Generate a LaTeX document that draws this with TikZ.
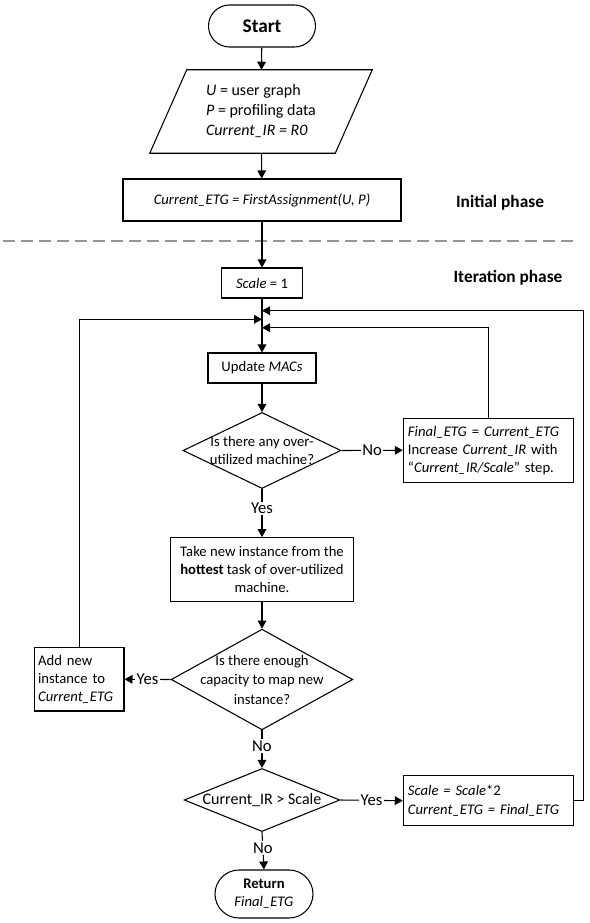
\documentclass[tikz,border=0pt]{standalone}
\usepackage{fontspec}
\setmainfont{Carlito}
\usetikzlibrary{shapes.geometric,shapes.misc,arrows.meta,calc}
\newcommand{\fsz}[2]{\fontsize{#1}{#2}\selectfont}
\definecolor{dashgray}{RGB}{150,150,150}
\begin{document}
\begin{tikzpicture}[x=0.75pt,y=-0.75pt,
 every node/.style={font=\fsz{11}{13.4}},
 flow/.style={line width=0.8pt},
 arr/.style={flow,-{Triangle[length=6pt,width=6.5pt]}},
 box/.style={draw,line width=0.8pt,inner sep=0pt,align=center},
 lbox/.style={draw,line width=0.8pt,inner ysep=0pt,inner xsep=3.5pt,align=left},
 term/.style={draw,line width=0.8pt,rounded rectangle,inner sep=0pt,align=center},
 dia/.style={draw,line width=0.8pt,diamond,inner sep=0pt},
 lab/.style={fill=white,inner sep=1pt,font=\fsz{12.5}{14}},
 phase/.style={font=\bfseries\fsz{13}{15}},
]
\useasboundingbox (0,0) rectangle (589,923);

% nodes
\node[term,minimum width=80.25pt,minimum height=31.5pt,font=\bfseries\fsz{14.5}{16}] (start) at (262,26) {Start};

\node[inner sep=0pt,minimum width=166.5pt,minimum height=62.25pt,align=left,font=\fsz{12}{15}] (inp) at (261,111.5)
 {\textit{U} = user graph\\\textit{P} = profiling data\\\textit{Current\_IR = R0}};
\draw[flow] ($(inp.north west)+(37,0)$) -- (inp.north east) -- ($(inp.south east)+(-37,0)$) -- (inp.south west) -- cycle;

\node[box,minimum width=208.5pt,minimum height=31.5pt] (first) at (262,200)
 {\textit{Current\_ETG = FirstAssignment(U, P)}};

\node[phase] (ip) at (500,203) {Initial phase};
\coordinate (dl) at (3,241);
\coordinate (dr) at (575,241);
\draw[dashgray,line width=0.8pt,dash pattern=on 9pt off 4.5pt] (dl) -- (dr);
\node[phase] (itp) at (508,278) {Iteration phase};

\node[box,minimum width=60.75pt,minimum height=22.5pt] (scale1) at (262,283) {\textit{Scale} = 1};

\node[box,minimum width=81pt,minimum height=22.5pt] (update) at (262,368) {Update \textit{MACs}};

\node[dia,minimum width=118.5pt,minimum height=57pt] (d1) at (262,450.5) {};
\node[align=center,inner sep=0pt,font=\fsz{11}{13}] (d1t) at (d1.center) {Is there any over-\\utilized machine?};

\node[lbox,text width=120.5pt,minimum height=48pt] (final) at (488.3,450.3)
 {\textit{Final\_ETG} = \textit{Current\_ETG}\\Increase \textit{Current\_IR} with\\“\textit{Current\_IR/Scale}” step.};

\node[box,minimum width=136.7pt,minimum height=48pt,font=\fsz{11}{13.5}] (take) at (262,569.7)
 {Take new instance from the\\\textbf{hottest} task of over-utilized\\machine.};

\node[dia,minimum width=136.2pt,minimum height=75.5pt] (d2) at (262,679.5) {};
\node[align=center,inner sep=0pt,font=\fsz{11}{14.6}] (d2t) at (d2.center) {Is there enough\\capacity to map new\\instance?};

\node[lbox,inner xsep=2.6pt,text width=61.8pt,minimum height=47.5pt,font=\fsz{11}{13.7}] (add) at (79.3,679.3)
 {Add new\\instance to\\\textit{Current\_ETG}};

\node[dia,minimum width=116.8pt,minimum height=47.25pt] (d3) at (262,800) {};
\node[inner sep=0pt,font=\fsz{12}{14}] (d3t) at (d3.center) {Current\_IR > Scale};

\node[lbox,text width=120.5pt,minimum height=37.5pt,font=\fsz{11}{13.7}] (scale2) at (488.3,800.7)
 {\textit{Scale = Scale}*2\\\textit{Current\_ETG = Final\_ETG}};

\node[term,minimum width=73.5pt,minimum height=36pt,font=\fsz{11}{13.4}] (ret) at (264,894)
 {\textbf{Return}\\\textit{Final\_ETG}};

% merge points
\coordinate (m1) at (262,310.7);
\coordinate (m2) at (262,319.3);
\coordinate (m3) at (262,327.7);
\coordinate (r1) at (583.3,310.7);

% connectors
\draw[arr] (start) -- (inp);
\draw[arr] (inp) -- (first);
\draw[arr] (first) -- (scale1);
\draw[arr] (scale1) -- (update);
\draw[arr] (update) -- (d1);
\draw[arr] (d1.east) -- node[lab]{No} (final.west);
\draw[arr] (final.north) |- (m3);
\draw[arr] (d1.south) -- node[lab,pos=0.4]{Yes} (take.north);
\draw[arr] (take) -- (d2);
\draw[arr] (d2.west) -- node[lab]{Yes} (add.east);
\draw[arr] (add.north) |- (m2);
\draw[arr] (d2.south) -- node[lab,pos=0.42]{No} (d3.north);
\draw[arr] (d3.east) -- node[lab]{Yes} (scale2.west);
\draw[arr] (scale2.east) -| (r1) -- (m1);
\draw[arr] (d3.south) -- node[lab,pos=0.42]{No} (ret.north);
\end{tikzpicture}
\end{document}
